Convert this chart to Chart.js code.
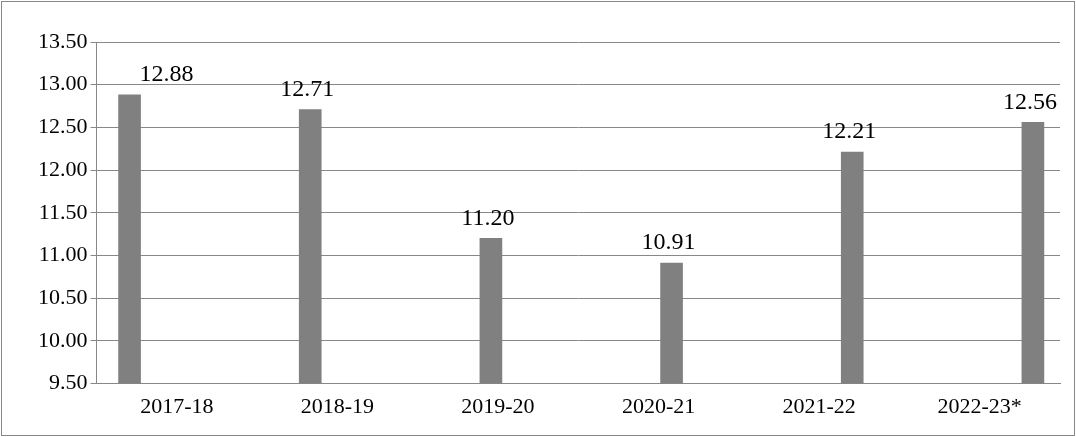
<!DOCTYPE html>
<html><head><script src="https://cdn.jsdelivr.net/npm/chart.js@4"></script>
<style>body{margin:0;background:#fff}#w{position:absolute;left:1px;top:1px;width:1072px;height:433px;border:1px solid #888;}</style>
</head><body><div id="w"><canvas id="c"></canvas></div>
<script>
const categories=["2017-18","2018-19","2019-20","2020-21","2021-22","2022-23*"];
const values=[12.88,12.71,11.20,10.91,12.21,12.56];
const F="'Liberation Serif','Times New Roman',serif";
const labelsPlugin={id:'lbl',afterDatasetsDraw(ch){const ctx=ch.ctx;const m=ch.getDatasetMeta(0);ctx.save();ctx.font="24px "+F;ctx.fillStyle="#000";ctx.textAlign="center";ctx.textBaseline="bottom";
m.data.forEach((b,i)=>{ctx.fillText(values[i].toFixed(2),b.x+(i===0?37:-3),b.y-8);});ctx.restore();}};
new Chart(document.getElementById('c'),{type:'bar',
data:{datasets:[{data:values.map((v,i)=>({x:i,y:v})),backgroundColor:'#808080',barThickness:22,xAxisID:'x'}]},
options:{responsive:true,maintainAspectRatio:false,animation:false,
layout:{padding:{left:33,right:14,top:40,bottom:13}},
plugins:{legend:{display:false},tooltip:{enabled:false}},
scales:{
x:{type:'linear',offset:false,min:-0.183,max:5.15,display:true,ticks:{display:false},grid:{display:false,drawTicks:false},border:{color:'#888'}},
x2:{type:'category',labels:categories,position:'bottom',offset:true,grid:{display:false},border:{display:false},ticks:{color:'#000',padding:2,font:{family:F,size:22}}},
y:{min:9.5,max:13.5,ticks:{stepSize:0.5,color:'#000',font:{family:F,size:22},callback:v=>v.toFixed(2)},grid:{color:'#888',drawTicks:true,tickLength:6},border:{color:'#888'}}}},
plugins:[labelsPlugin]});
</script></body></html>
